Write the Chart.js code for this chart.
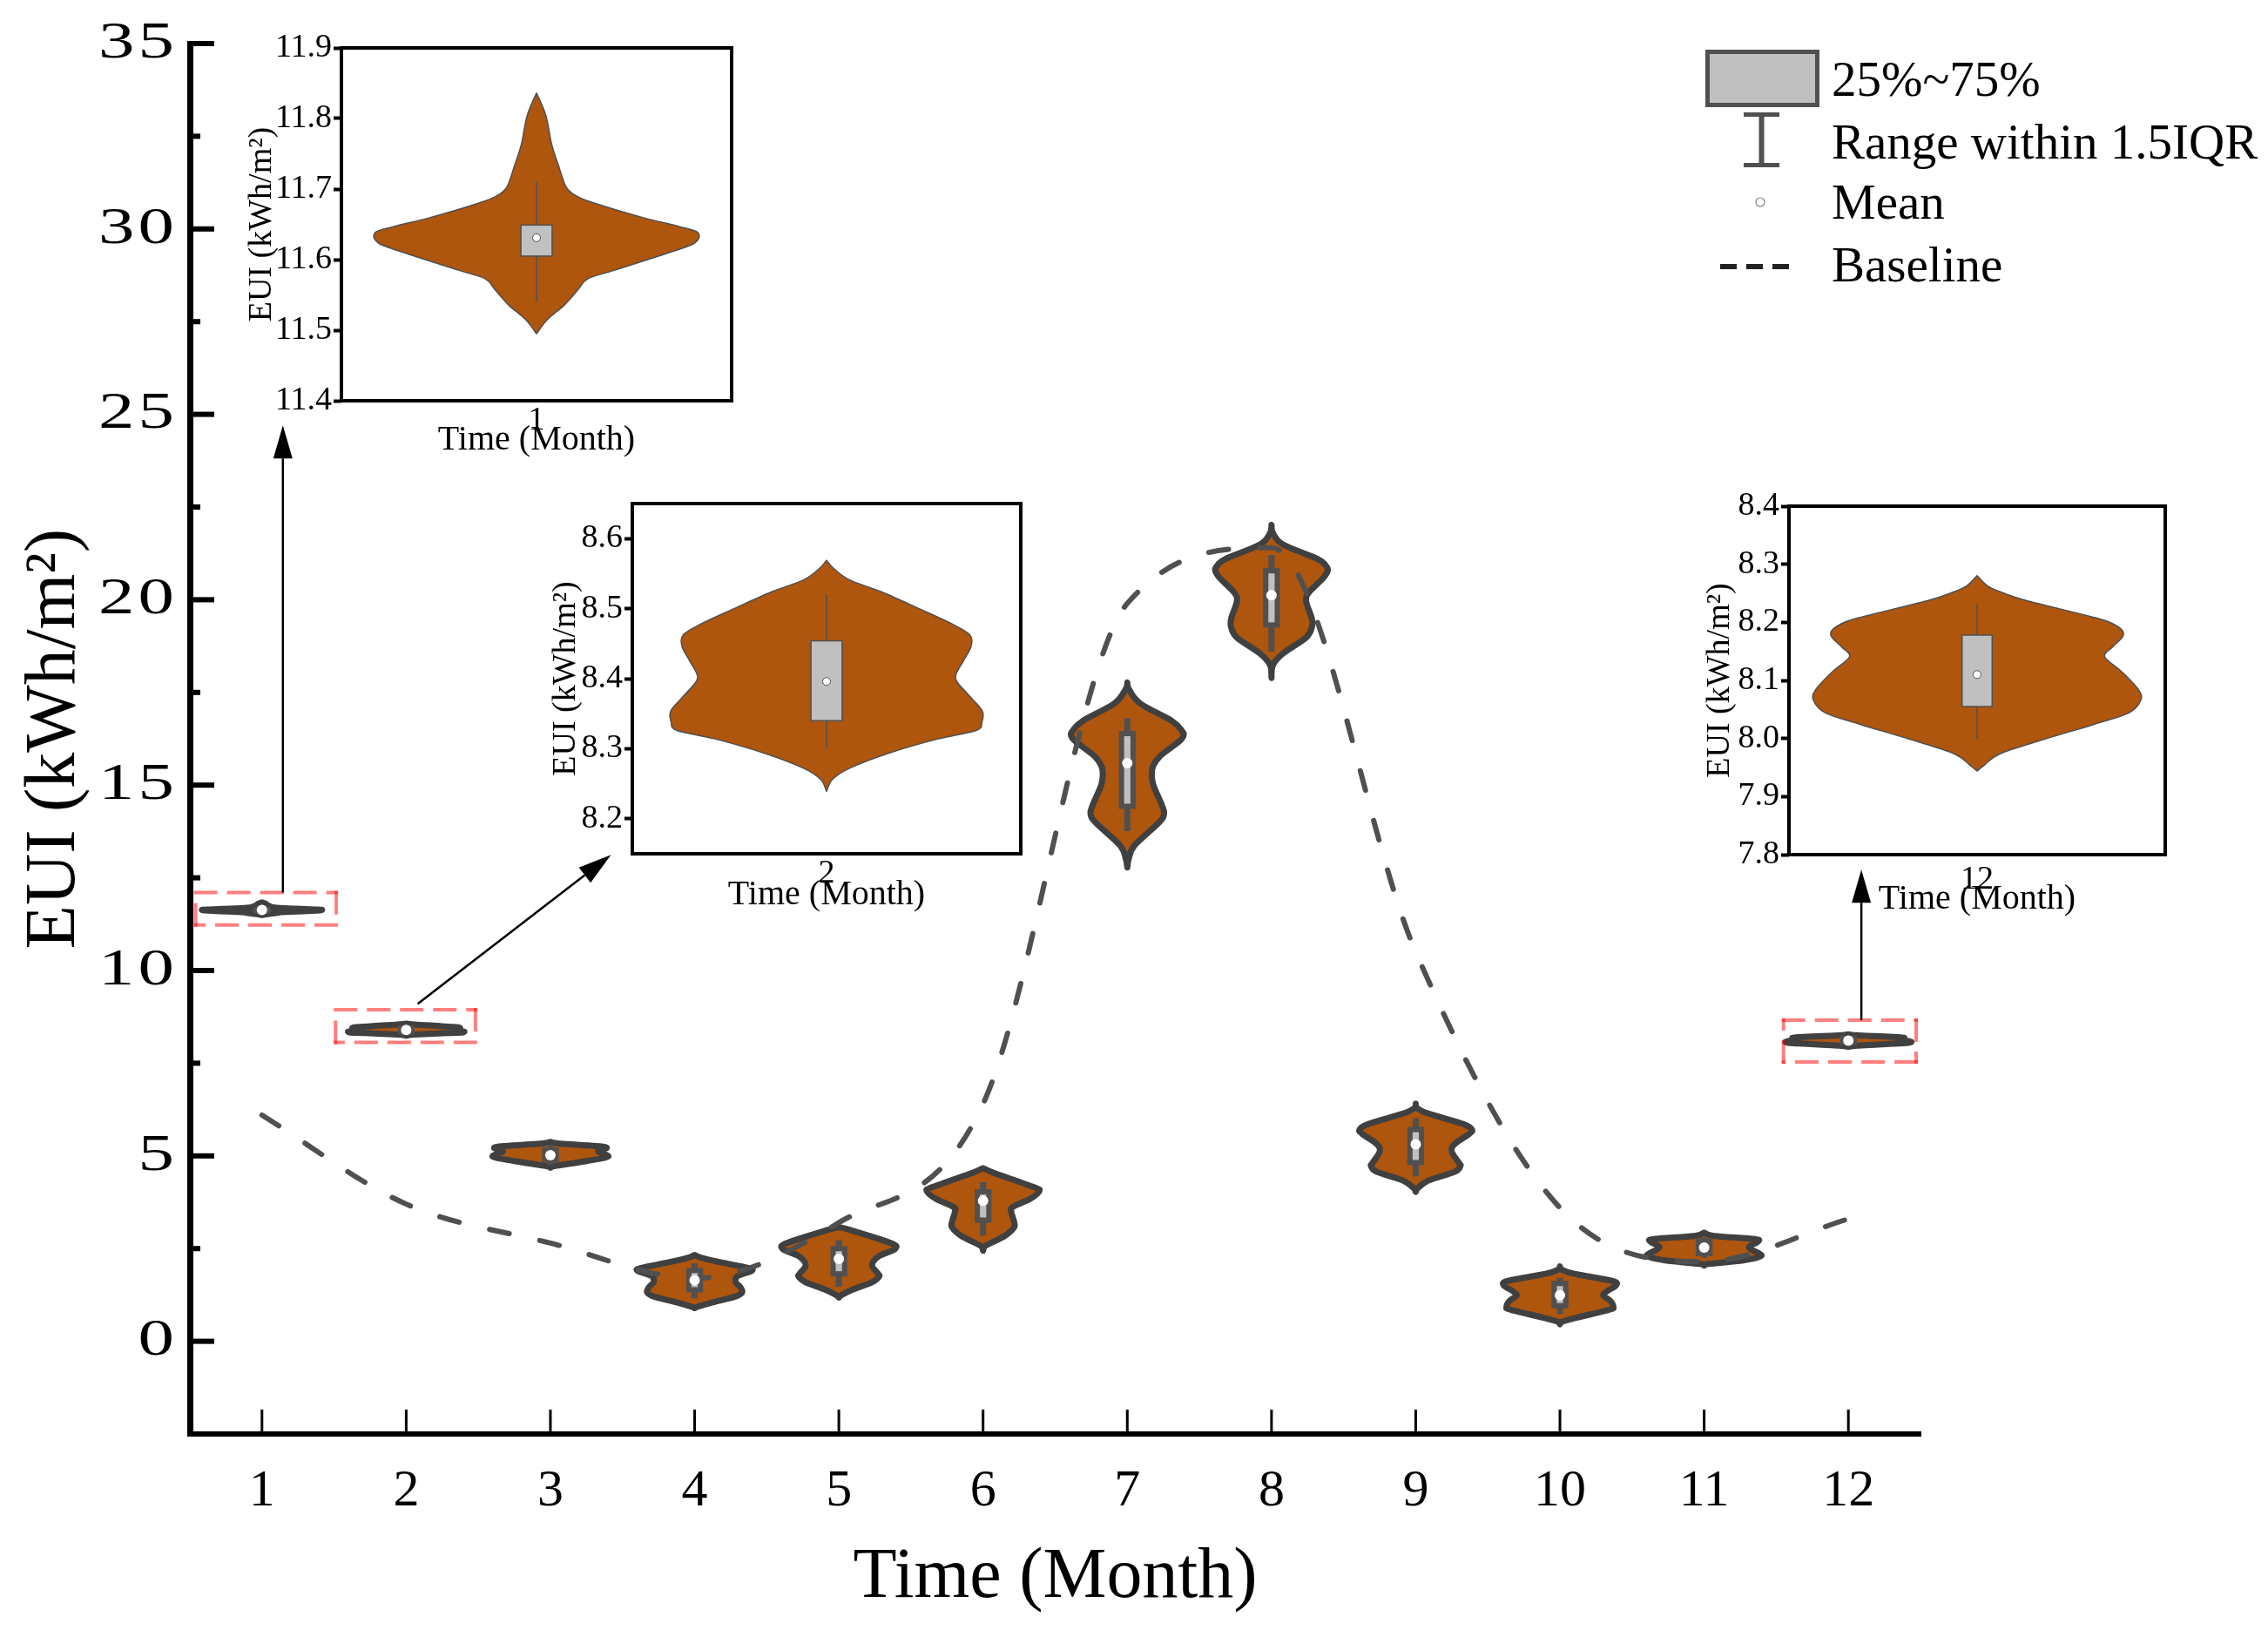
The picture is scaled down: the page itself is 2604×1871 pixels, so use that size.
<!DOCTYPE html>
<html>
<head>
<meta charset="utf-8">
<script src="https://cdn.jsdelivr.net/npm/chart.js@4.4.1/dist/chart.umd.min.js"></script>
<style>
  html, body { margin: 0; padding: 0; background: #fff; }
  #wrap { position: relative; width: 2604px; height: 1871px; }
  canvas { position: absolute; }
</style>
</head>
<body>
<div id="wrap">
  <canvas id="main" width="2604" height="1871" style="left:0;top:0"></canvas>
  <canvas id="inset1" width="620" height="540" style="left:250px;top:20px"></canvas>
  <canvas id="inset2" width="610" height="540" style="left:590px;top:545px"></canvas>
  <canvas id="inset3" width="610" height="540" style="left:1915px;top:548px"></canvas>
</div>
<script>
// ---------- data ----------
const months = [1, 2, 3, 4, 5, 6, 7, 8, 9, 10, 11, 12];
const baseline = [6.1, 3.7, 2.65, 1.7, 3.2, 6.4, 19.9, 21.4, 10.5, 3.6, 2.15, 3.3];
const means = [11.631, 8.396, 5.02, 1.65, 2.22, 3.79, 15.59, 20.12, 5.31, 1.24, 2.53, 8.11];
const q1 = [11.605, 8.34, 4.9, 1.39, 1.82, 3.27, 14.43, 19.32, 4.82, 0.96, 2.37, 8.055];
const q3 = [11.649, 8.454, 5.16, 1.91, 2.5, 4.03, 16.39, 20.78, 5.71, 1.56, 2.7, 8.178];
const whiskerLow = [11.54, 8.3, 4.75, 1.16, 1.47, 2.85, 13.76, 18.6, 4.45, 0.73, 2.25, 7.999];
const whiskerHigh = [11.71, 8.52, 5.3, 2.1, 2.73, 4.29, 16.8, 21.2, 6.02, 1.71, 2.8, 8.231];

// violin outline for each month, top to bottom: [EUI, half width in months]
const violinShapes = [
  [[11.836, 0], [11.804, 0.024], [11.763, 0.039], [11.734, 0.056], [11.703, 0.076], [11.69, 0.103], [11.68, 0.149], [11.66, 0.27], [11.647, 0.365], [11.639, 0.412], [11.627, 0.412], [11.616, 0.373], [11.585, 0.2], [11.573, 0.132], [11.557, 0.106], [11.536, 0.072], [11.515, 0.028], [11.495, 0]],
  [[8.569, 0], [8.557, 0.019], [8.541, 0.059], [8.524, 0.141], [8.5, 0.238], [8.479, 0.32], [8.463, 0.368], [8.446, 0.372], [8.425, 0.352], [8.401, 0.332], [8.38, 0.36], [8.355, 0.4], [8.338, 0.4], [8.326, 0.385], [8.314, 0.287], [8.293, 0.157], [8.272, 0.059], [8.256, 0.015], [8.239, 0]],
  [[5.38, 0], [5.33, 0.07], [5.24, 0.38], [5.12, 0.33], [4.98, 0.4], [4.86, 0.25], [4.72, 0.02], [4.68, 0]],
  [[2.33, 0], [2.25, 0.05], [2.13, 0.18], [1.98, 0.37], [1.9, 0.395], [1.75, 0.295], [1.59, 0.285], [1.47, 0.315], [1.32, 0.33], [1.21, 0.285], [1.05, 0.125], [0.93, 0.02], [0.89, 0]],
  [[3.08, 0], [3.0, 0.08], [2.65, 0.36], [2.49, 0.39], [2.3, 0.28], [2.06, 0.23], [1.83, 0.27], [1.75, 0.28], [1.59, 0.23], [1.4, 0.1], [1.25, 0.02], [1.18, 0]],
  [[4.67, 0], [4.55, 0.07], [4.16, 0.35], [4.05, 0.39], [3.85, 0.33], [3.62, 0.205], [3.5, 0.195], [3.23, 0.215], [3.07, 0.215], [2.84, 0.15], [2.56, 0.01], [2.44, 0]],
  [[17.77, 0], [17.6, 0.01], [17.2, 0.09], [16.73, 0.31], [16.46, 0.38], [16.34, 0.39], [16.18, 0.36], [15.79, 0.23], [15.52, 0.18], [15.32, 0.17], [15.01, 0.18], [14.46, 0.24], [14.23, 0.255], [13.99, 0.22], [13.37, 0.05], [13.01, 0.01], [12.78, 0]],
  [[22.02, 0], [21.8, 0.01], [21.49, 0.08], [21.1, 0.32], [20.9, 0.38], [20.78, 0.39], [20.59, 0.36], [20.2, 0.26], [19.96, 0.24], [19.49, 0.28], [19.26, 0.28], [18.98, 0.24], [18.55, 0.08], [18.24, 0.01], [17.89, 0]],
  [[6.41, 0], [6.29, 0.01], [6.14, 0.09], [5.86, 0.33], [5.71, 0.39], [5.59, 0.37], [5.32, 0.27], [5.12, 0.25], [4.81, 0.3], [4.73, 0.31], [4.57, 0.27], [4.34, 0.09], [4.1, 0.005], [4.03, 0]],
  [[2.02, 0], [1.94, 0.01], [1.82, 0.1], [1.63, 0.36], [1.51, 0.39], [1.36, 0.33], [1.24, 0.3], [1.09, 0.35], [0.93, 0.37], [0.85, 0.34], [0.62, 0.1], [0.52, 0.01], [0.46, 0]],
  [[2.93, 0], [2.84, 0.07], [2.76, 0.35], [2.68, 0.37], [2.53, 0.31], [2.37, 0.38], [2.29, 0.39], [2.18, 0.27], [2.08, 0.02], [2.04, 0]],
  [[8.2805, 0], [8.263, 0.027], [8.253, 0.06], [8.238, 0.128], [8.208, 0.314], [8.193, 0.373], [8.178, 0.389], [8.158, 0.361], [8.141, 0.339], [8.114, 0.386], [8.084, 0.429], [8.066, 0.435], [8.044, 0.403], [8.024, 0.309], [7.999, 0.181], [7.974, 0.062], [7.954, 0.019], [7.944, 0]]
];

const yTicks = [-2.5, 0, 2.5, 5, 7.5, 10, 12.5, 15, 17.5, 20, 22.5, 25, 27.5, 30, 32.5, 35];
const inset1Ticks = [11.4, 11.5, 11.6, 11.7, 11.8, 11.9];
const inset2Ticks = [8.2, 8.3, 8.4, 8.5, 8.6];
const inset3Ticks = [7.8, 7.9, 8.0, 8.1, 8.2, 8.3, 8.4];

// ---------- shared setup ----------
const serif = "'Liberation Serif', 'Times New Roman', serif";
Chart.defaults.font.family = serif;
Chart.defaults.color = '#000';

const mainStyle = { fill: '#AE550E', edge: '#404040', edgeWidth: 7, boxHalf: 0.04, boxEdge: '#505050', boxWidth: 6, whiskerWidth: 7 };
const insetStyle = { fill: '#AE550E', edge: '#505050', edgeWidth: 1.5, boxHalf: 0.04, boxEdge: '#505050', boxWidth: 1.5, whiskerWidth: 1.5 };

// smooth curve through points (catmull-rom), ends stay pointed
function smoothTo(ctx, p) {
  for (let k = 0; k < p.length - 1; k++) {
    const p0 = p[Math.max(k - 1, 0)], p1 = p[k], p2 = p[k + 1], p3 = p[Math.min(k + 2, p.length - 1)];
    ctx.bezierCurveTo(
      p1[0] + (p2[0] - p0[0]) / 6, p1[1] + (p2[1] - p0[1]) / 6,
      p2[0] - (p3[0] - p1[0]) / 6, p2[1] - (p3[1] - p1[1]) / 6,
      p2[0], p2[1]);
  }
}

// draws violins + box + whisker for the given month indexes
function violinPlugin(list, st) {
  return {
    id: 'violins',
    beforeDatasetsDraw(chart) {
      const { ctx, scales: { x, y } } = chart;
      ctx.save();
      list.forEach(i => {
        const m = months[i], shape = violinShapes[i];
        const right = shape.map(([v, w]) => [x.getPixelForValue(m + w), y.getPixelForValue(v)]);
        const left = shape.map(([v, w]) => [x.getPixelForValue(m - w), y.getPixelForValue(v)]).reverse();
        ctx.beginPath();
        ctx.moveTo(right[0][0], right[0][1]);
        smoothTo(ctx, right);
        smoothTo(ctx, left);
        ctx.closePath();
        ctx.fillStyle = st.fill;
        ctx.fill();
        ctx.lineJoin = 'round';
        ctx.lineWidth = st.edgeWidth;
        ctx.strokeStyle = st.edge;
        ctx.stroke();

        // whisker
        const px = x.getPixelForValue(m);
        ctx.beginPath();
        ctx.moveTo(px, y.getPixelForValue(whiskerHigh[i]));
        ctx.lineTo(px, y.getPixelForValue(whiskerLow[i]));
        ctx.lineWidth = st.whiskerWidth;
        ctx.strokeStyle = st.boxEdge;
        ctx.lineCap = 'butt';
        ctx.stroke();

        // box
        const bx1 = x.getPixelForValue(m - st.boxHalf), bx2 = x.getPixelForValue(m + st.boxHalf);
        const by1 = y.getPixelForValue(q3[i]), by2 = y.getPixelForValue(q1[i]);
        ctx.fillStyle = '#C0C0C0';
        ctx.fillRect(bx1, by1, bx2 - bx1, by2 - by1);
        ctx.lineWidth = st.boxWidth;
        ctx.strokeStyle = st.boxEdge;
        ctx.lineJoin = 'miter';
        ctx.strokeRect(bx1, by1, bx2 - bx1, by2 - by1);
      });
      ctx.restore();
    }
  };
}

// red dashed frames + arrows pointing to the insets
const annotationPlugin = {
  id: 'zoomMarks',
  afterDatasetsDraw(chart) {
    const { ctx, scales: { x, y } } = chart;
    const frames = [[0.54, 1.515, 11.23, 12.1], [1.51, 2.48, 8.06, 8.94], [11.55, 12.47, 7.53, 8.66]];
    const arrows = [[1.145, 12.1, 1.145, 24.7], [2.08, 9.1, 3.42, 13.12], [12.09, 8.66, 12.09, 12.72]];
    ctx.save();
    ctx.strokeStyle = 'rgba(255,0,0,0.5)';
    ctx.lineWidth = 4;
    ctx.setLineDash([23, 15]);
    ctx.lineCap = 'square';
    frames.forEach(([xa, xb, ya, yb]) => {
      const l = x.getPixelForValue(xa), r = x.getPixelForValue(xb);
      const t = y.getPixelForValue(yb), b = y.getPixelForValue(ya);
      [[l, t, r, t], [r, t, r, b], [r, b, l, b], [l, b, l, t]].forEach(([a1, a2, a3, a4]) => {
        ctx.beginPath(); ctx.moveTo(a1, a2); ctx.lineTo(a3, a4); ctx.stroke();
      });
    });
    ctx.setLineDash([]);
    ctx.lineCap = 'butt';
    ctx.strokeStyle = '#000';
    ctx.fillStyle = '#000';
    ctx.lineWidth = 2.5;
    arrows.forEach(([xa, ya, xb, yb]) => {
      const x1 = x.getPixelForValue(xa), y1 = y.getPixelForValue(ya);
      const x2 = x.getPixelForValue(xb), y2 = y.getPixelForValue(yb);
      const ang = Math.atan2(y2 - y1, x2 - x1), len = 38, hw = 11;
      const bx = x2 - len * Math.cos(ang), by = y2 - len * Math.sin(ang);
      ctx.beginPath(); ctx.moveTo(x1, y1); ctx.lineTo(bx, by); ctx.stroke();
      ctx.beginPath();
      ctx.moveTo(x2, y2);
      ctx.lineTo(bx + hw * Math.sin(ang), by - hw * Math.cos(ang));
      ctx.lineTo(bx - hw * Math.sin(ang), by + hw * Math.cos(ang));
      ctx.closePath();
      ctx.fill();
    });
    ctx.restore();
  }
};

// inward tick marks on the main axes, plus the wide y labels
const axisTickPlugin = {
  id: 'innerTicks',
  afterDraw(chart) {
    const { ctx, chartArea: a, scales: { x, y } } = chart;
    ctx.save();
    ctx.fillStyle = '#000';
    y.ticks.forEach(t => {
      if (t.value === -2.5) return;
      const py = y.getPixelForValue(t.value);
      const len = t.value % 5 === 0 ? 28 : 12;
      ctx.fillRect(a.left, py - 3, len, 6);
    });
    x.ticks.forEach(t => {
      const px = x.getPixelForValue(t.value);
      ctx.fillRect(px - 1.5, a.bottom - 28, 3, 28);
    });

    // y labels are drawn stretched sideways, like in the original figure
    const sx = 1.38, gap = 3;
    ctx.font = '60px ' + serif;
    ctx.textAlign = 'right';
    ctx.textBaseline = 'middle';
    ctx.scale(sx, 1);
    const spaced = 'letterSpacing' in ctx;
    if (spaced) ctx.letterSpacing = gap + 'px';
    y.ticks.forEach(t => {
      if (t.value % 5 !== 0) return;
      ctx.fillText(String(t.value), (a.left - 18) / sx + (spaced ? gap : 0), y.getPixelForValue(t.value));
    });
    ctx.restore();
  }
};

// custom legend, top right
const legendPlugin = {
  id: 'sideLegend',
  afterDraw(chart) {
    const ctx = chart.ctx;
    ctx.save();
    ctx.fillStyle = '#C0C0C0';
    ctx.fillRect(1960.5, 59.5, 126, 61);
    ctx.strokeStyle = '#505050';
    ctx.lineWidth = 5;
    ctx.strokeRect(1960.5, 59.5, 126, 61);

    ctx.fillStyle = '#505050';
    ctx.fillRect(2002, 129, 41, 5);
    ctx.fillRect(2002, 187, 41, 5);
    ctx.fillRect(2019.5, 129, 6, 63);

    ctx.beginPath();
    ctx.arc(2021, 232, 5, 0, Math.PI * 2);
    ctx.fillStyle = '#fff';
    ctx.fill();
    ctx.lineWidth = 1.2;
    ctx.strokeStyle = '#808080';
    ctx.stroke();

    ctx.fillStyle = '#222';
    [1975, 2005, 2035].forEach(px => ctx.fillRect(px, 303, 19, 6));

    ctx.fillStyle = '#000';
    ctx.font = '57px ' + serif;
    ctx.textAlign = 'left';
    ctx.textBaseline = 'middle';
    ctx.fillText('25%~75%', 2103, 95);
    ctx.fillText('Range within 1.5IQR', 2103, 167);
    ctx.fillText('Mean', 2103, 236);
    ctx.fillText('Baseline', 2103, 308);
    ctx.restore();
  }
};

// black frame around each inset
const framePlugin = {
  id: 'frame',
  afterDraw(chart) {
    const { ctx, chartArea: a } = chart;
    ctx.save();
    ctx.strokeStyle = '#000';
    ctx.lineWidth = 4;
    ctx.strokeRect(a.left, a.top, a.right - a.left, a.bottom - a.top);
    ctx.restore();
  }
};

// ---------- main chart ----------
new Chart(document.getElementById('main'), {
  type: 'scatter',
  data: {
    datasets: [
      {
        type: 'line',
        label: 'Baseline',
        data: months.map((m, i) => ({ x: m, y: baseline[i] })),
        borderColor: '#505050',
        borderWidth: 6,
        borderDash: [23, 36],
        borderCapStyle: 'round',
        pointRadius: 0,
        cubicInterpolationMode: 'monotone',
        fill: false,
        order: 1
      },
      {
        label: 'Mean',
        data: months.map((m, i) => ({ x: m, y: means[i] })),
        pointRadius: 6,
        backgroundColor: '#fff',
        borderColor: '#fff',
        borderWidth: 0,
        order: 0
      }
    ]
  },
  options: {
    responsive: false,
    animation: false,
    layout: { padding: { left: 0, top: 50, right: 399, bottom: 0 } },
    plugins: { legend: { display: false }, tooltip: { enabled: false } },
    scales: {
      x: {
        type: 'linear', min: 0.5, max: 12.5,
        afterBuildTicks: s => { s.ticks = months.map(v => ({ value: v })); },
        afterFit: s => { s.height = 225; },
        grid: { display: false, drawTicks: false },
        border: { color: '#000', width: 6 },
        ticks: { font: { size: 60 }, padding: 30, autoSkip: false, maxRotation: 0, callback: v => v },
        title: { display: true, text: 'Time (Month)', font: { size: 82 }, padding: { top: 0, bottom: 10 } }
      },
      y: {
        min: -2.5, max: 35,
        afterBuildTicks: s => { s.ticks = yTicks.map(v => ({ value: v })); },
        afterFit: s => { s.width = 218; },
        grid: { display: false, drawTicks: false },
        border: { color: '#000', width: 7 },
        ticks: { display: false, font: { size: 60 }, padding: 18, callback: v => (v % 5 === 0 ? v : '') },
        title: { display: true, text: 'EUI (kWh/m²)', font: { size: 82 }, padding: { top: 14, bottom: 0 } }
      }
    }
  },
  plugins: [violinPlugin(months.map((m, i) => i), mainStyle), annotationPlugin, axisTickPlugin, legendPlugin]
});

// ---------- zoomed insets ----------
function makeInset(id, i, yMin, yMax, tickList, g) {
  const m = months[i];
  return new Chart(document.getElementById(id), {
    type: 'scatter',
    data: {
      datasets: [{
        data: [{ x: m, y: means[i] }],
        pointRadius: 4.5,
        backgroundColor: '#fff',
        borderColor: '#505050',
        borderWidth: 1
      }]
    },
    options: {
      responsive: false,
      animation: false,
      layout: { padding: { left: 0, top: g.top, right: g.right, bottom: 0 } },
      plugins: { legend: { display: false }, tooltip: { enabled: false } },
      scales: {
        x: {
          type: 'linear', min: m - 0.5, max: m + 0.5,
          afterBuildTicks: s => { s.ticks = [{ value: m }]; },
          afterFit: s => { s.height = g.xh; },
          grid: { display: false, drawTicks: false },
          border: { display: false },
          ticks: { font: { size: 38 }, padding: g.xtp, callback: v => v },
          title: { display: true, text: 'Time (Month)', font: { size: 40 }, padding: { top: 0, bottom: g.xt } }
        },
        y: {
          min: yMin, max: yMax,
          afterBuildTicks: s => { s.ticks = tickList.map(v => ({ value: v })); },
          afterFit: s => { s.width = g.yw; },
          grid: { display: true, drawOnChartArea: false, drawTicks: true, tickLength: 9, tickWidth: 4, tickColor: '#000' },
          border: { display: false },
          ticks: { font: { size: 38 }, padding: 2, callback: v => v.toFixed(1) },
          title: { display: true, text: 'EUI (kWh/m²)', font: { size: 38 }, padding: { top: g.yt, bottom: 0 } }
        }
      }
    },
    plugins: [violinPlugin([i], insetStyle), framePlugin]
  });
}

makeInset('inset1', 0, 11.4, 11.9, inset1Ticks, { top: 35, right: 30, yw: 142, xh: 100, yt: 28, xt: 31, xtp: 0 });
makeInset('inset2', 1, 8.15, 8.65, inset2Ticks, { top: 33, right: 28, yw: 136, xh: 105, yt: 37, xt: 34, xtp: 0 });
makeInset('inset3', 11, 7.8, 8.4, inset3Ticks, { top: 33, right: 39, yw: 139, xh: 107, yt: 37, xt: 32, xtp: 6 });
</script>
</body>
</html>
